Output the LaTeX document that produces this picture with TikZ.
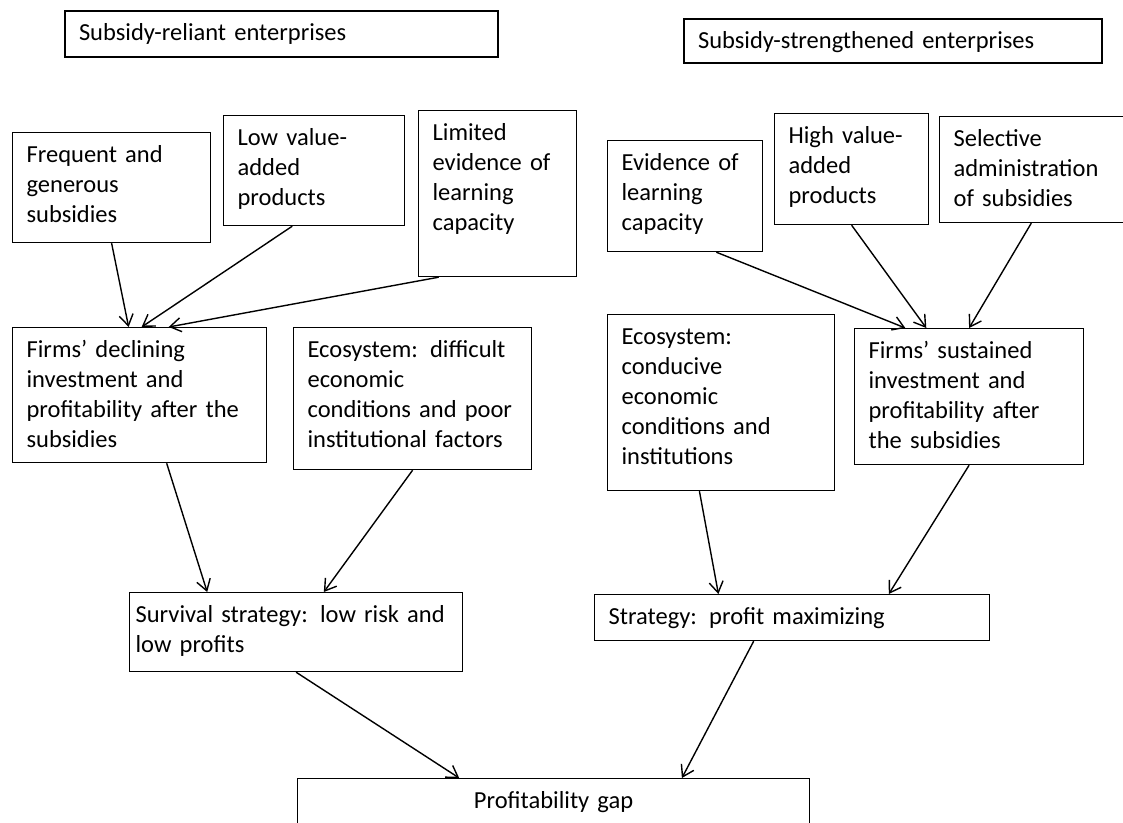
\documentclass[tikz,border=0pt]{standalone}
\usepackage{fontspec}
\setmainfont{Carlito}
\usetikzlibrary{arrows.meta,calc}

\begin{document}
\begin{tikzpicture}[
    x=0.5pt, y=-0.5pt,
    box/.style={rectangle, draw, line width=0.6pt, anchor=north west, align=left, inner xsep=7pt, inner ysep=3pt, text height=12pt, font=\fontsize{12.25}{15}\selectfont},
    head/.style={box, line width=1pt},
    arrow/.style={-{Straight Barb[length=5.5pt, width=7pt]}, line width=0.7pt}
]
    \useasboundingbox (0,0) rectangle (1123,823);

    % Headings
    \node[head, text width=202.5pt, text depth=5pt] (reliant) at (64,10) {Subsidy-reliant enterprises};
    \node[head, text width=195pt, text depth=4pt] (strengthened) at (683,18) {Subsidy-strengthened enterprises};

    % Conditions, left
    \node[box, text width=85pt, text depth=37pt] (frequent) at (12,132) {Frequent and\\generous\\subsidies};
    \node[box, text width=76.5pt, text depth=37pt] (lowvalue) at (223,115) {Low value-\\added\\products};
    \node[box, text width=65pt, text depth=65pt] (limited) at (418,110) {Limited\\evidence of\\learning\\capacity};

    % Conditions, right
    \node[box, text width=63.5pt, text depth=37.5pt] (evidence) at (607,140) {Evidence of\\learning\\capacity};
    \node[box, text width=63pt, text depth=37.5pt] (highvalue) at (774,113) {High value-\\added\\products};
    \node[box, text width=81.5pt, text depth=35pt] (selective) at (939,116) {Selective\\administration\\of subsidies};

    % Firms and ecosystems
    \node[box, text width=113pt, text depth=49.5pt] (declining) at (12,327) {Firms’ declining\\investment and\\profitability after the\\subsidies};
    \node[box, text width=105pt, text depth=53pt] (difficult) at (293,327) {Ecosystem: difficult\\economic\\conditions and poor\\institutional factors};
    \node[box, text width=99.5pt, text depth=70pt] (conducive) at (607,314) {Ecosystem:\\conducive\\economic\\conditions and\\institutions};
    \node[box, text width=100.5pt, text depth=50pt] (sustained) at (854,328) {Firms’ sustained\\investment and\\profitability after\\the subsidies};

    % Strategies
    \node[box, inner xsep=3pt, text width=160.5pt, text depth=21.5pt] (survival) at (129,592) {Survival strategy: low risk and\\low profits};
    \node[box, text width=183.5pt, text depth=5pt] (maximizing) at (594,594) {Strategy: profit maximizing};

    % Outcome
    \node[box, align=center, text width=242pt, text depth=12pt] (gap) at (297,778) {Profitability gap};

    % Arrows
    \draw[arrow] (frequent.south) -- ($(declining.north west)!0.457!(declining.north east)$);
    \draw[arrow] ($(lowvalue.south west)!0.38!(lowvalue.south east)$) -- ($(declining.north west)!0.508!(declining.north east)$);
    \draw[arrow] ($(limited.south west)!0.13!(limited.south east)$) -- ($(declining.north west)!0.614!(declining.north east)$);
    \draw[arrow] ($(evidence.south west)!0.70!(evidence.south east)$) -- ($(sustained.north west)!0.223!(sustained.north east)$);
    \draw[arrow] (highvalue.south) -- ($(sustained.north west)!0.314!(sustained.north east)$);
    \draw[arrow] ($(selective.south west)!0.48!(selective.south east)$) -- (sustained.north);
    \draw[arrow] ($(declining.south west)!0.606!(declining.south east)$) -- ($(survival.north west)!0.234!(survival.north east)$);
    \draw[arrow] (difficult.south) -- ($(survival.north west)!0.583!(survival.north east)$);
    \draw[arrow] ($(conducive.south west)!0.405!(conducive.south east)$) -- ($(maximizing.north west)!0.314!(maximizing.north east)$);
    \draw[arrow] (sustained.south) -- ($(maximizing.north west)!0.744!(maximizing.north east)$);
    \draw[arrow] (survival.south) -- ($(gap.north west)!0.316!(gap.north east)$);
    \draw[arrow] ($(maximizing.south west)!0.403!(maximizing.south east)$) -- ($(gap.north west)!0.75!(gap.north east)$);
\end{tikzpicture}
\end{document}
